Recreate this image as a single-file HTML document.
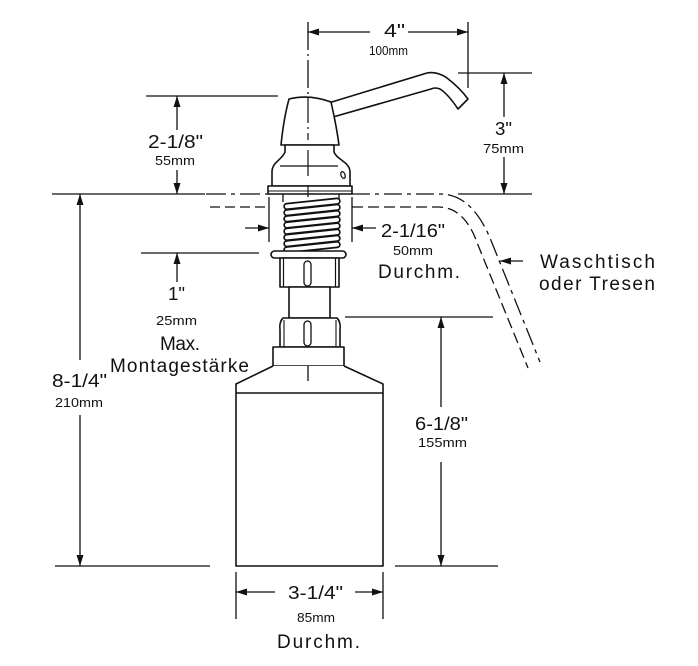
<!DOCTYPE html>
<html><head><meta charset="utf-8"><style>
html,body{margin:0;padding:0;background:#fff;}
svg{display:block;}
text{font-family:"Liberation Sans",Arial,sans-serif;fill:#111;}
</style></head><body>
<svg width="698" height="666" viewBox="0 0 698 666" xmlns="http://www.w3.org/2000/svg">
<rect width="698" height="666" fill="#fff"/>
<g stroke="#111" stroke-width="1.3" fill="none">
  <!-- center line -->
  <path d="M308 22 V197" stroke-dasharray="28 4 2 4"/>
  <path d="M308 287 V318" stroke-dasharray="14 4"/>
  <path d="M308 345 V381"/>
  <!-- 4" dimension -->
  <line x1="468" y1="22" x2="468" y2="88"/>
  <line x1="308" y1="32" x2="370" y2="32"/>
  <line x1="408" y1="32" x2="468" y2="32"/>
  <!-- 3" dimension -->
  <line x1="458" y1="73" x2="532" y2="73"/>
  <line x1="458" y1="194" x2="532" y2="194"/>
  <line x1="504" y1="73" x2="504" y2="117"/>
  <line x1="504" y1="157" x2="504" y2="194"/>
  <!-- 2-1/8" dimension -->
  <line x1="146" y1="96" x2="278" y2="96"/>
  <line x1="177" y1="96" x2="177" y2="130"/>
  <line x1="177" y1="170" x2="177" y2="194"/>
  <!-- counter top line left solid -->
  <line x1="52" y1="194" x2="205" y2="194"/>
  <!-- 8-1/4" dimension -->
  <line x1="80" y1="194" x2="80" y2="360"/>
  <line x1="80" y1="415" x2="80" y2="566"/>
  <line x1="55" y1="566" x2="210" y2="566"/>
  <!-- 1" dimension -->
  <line x1="141" y1="253" x2="259" y2="253"/>
  <line x1="177" y1="253" x2="177" y2="282"/>
  <!-- 2-1/16" -->
  <line x1="269" y1="197" x2="269" y2="242"/>
  <line x1="352" y1="197" x2="352" y2="242"/>
  <line x1="245" y1="228" x2="269" y2="228"/>
  <line x1="352" y1="228" x2="376" y2="228"/>
  <!-- 6-1/8" -->
  <line x1="345" y1="317" x2="493" y2="317"/>
  <line x1="441" y1="317" x2="441" y2="407"/>
  <line x1="441" y1="462" x2="441" y2="566"/>
  <line x1="395" y1="566" x2="498" y2="566"/>
  <!-- 3-1/4" -->
  <line x1="236" y1="572" x2="236" y2="619"/>
  <line x1="383" y1="572" x2="383" y2="619"/>
  <line x1="236" y1="592" x2="275" y2="592"/>
  <line x1="355" y1="592" x2="383" y2="592"/>
  <!-- Waschtisch arrow -->
  <line x1="500" y1="261" x2="523" y2="261"/>
  <!-- counter dashed lines -->
  <path d="M206 194 H269" stroke-dasharray="20 5 4 5"/>
  <path d="M210 207 H269" stroke-dasharray="10 5"/>
  <path d="M352 194 H440 C462 194 478 210 490 238 L540 362" stroke-dasharray="18 5 4 5"/>
  <path d="M352 207 H438 C458 207 470 222 478 245 L528 368" stroke-dasharray="11 5"/>
</g>
<!-- arrowheads -->
<g fill="#111">
  <polygon points="308,32 319,28.5 319,35.5"/>
  <polygon points="468,32 457,28.5 457,35.5"/>
  <polygon points="504,73 500.5,84 507.5,84"/>
  <polygon points="504,194 500.5,183 507.5,183"/>
  <polygon points="177,96 173.5,107 180.5,107"/>
  <polygon points="177,194 173.5,183 180.5,183"/>
  <polygon points="80,194 76.5,205 83.5,205"/>
  <polygon points="80,566 76.5,555 83.5,555"/>
  <polygon points="177,253 173.5,264 180.5,264"/>
  <polygon points="269,228 258,224.5 258,231.5"/>
  <polygon points="352,228 363,224.5 363,231.5"/>
  <polygon points="441,317 437.5,328 444.5,328"/>
  <polygon points="441,566 437.5,555 444.5,555"/>
  <polygon points="236,592 247,588.5 247,595.5"/>
  <polygon points="383,592 372,588.5 372,595.5"/>
  <polygon points="500,261 511,257.5 511,264.5"/>
</g>
<!-- pump drawing -->
<g stroke="#111" stroke-width="1.6" fill="#fff" stroke-linejoin="round">
  <!-- spout -->
  <path d="M322 105 L427 73 Q437 71 447 78 Q460 88 468 99 L458 109 Q448 94 440 89 Q435 87 431 89 L326 119 Z"/>
  <!-- head cap -->
  <path d="M281 145 C283 125 286 110 289 99 Q309 94 331 102 C334 115 337 130 339 145 Z"/>
  <!-- head base body -->
  <path d="M285 145 L285 152 C282 160 272 162 272 172 L272 186 L350 186 L350 172 C350 162 337 160 334 152 L334 145 Z"/>
  <line x1="280" y1="166" x2="338" y2="166" stroke-width="1.3"/>
  <rect x="268" y="186" width="84" height="8"/>
  <line x1="268" y1="191" x2="352" y2="191" stroke-width="1"/>
  <ellipse cx="343" cy="175" rx="2" ry="3.5" transform="rotate(-20 343 175)" stroke-width="1.3"/>
  <!-- thread stubs -->
  <line x1="283" y1="194" x2="283" y2="202" stroke-width="1.3"/>
  <line x1="339" y1="194" x2="339" y2="202" stroke-width="1.3"/>
  <!-- thread coils -->
  <g stroke-width="1.7">
    <rect x="284" y="201" width="56" height="5.6" rx="2.8" transform="rotate(-6 312 203.8)"/>
    <rect x="284" y="207.2" width="56" height="5.6" rx="2.8" transform="rotate(-6 312 210)"/>
    <rect x="284" y="213.4" width="56" height="5.6" rx="2.8" transform="rotate(-6 312 216.2)"/>
    <rect x="284" y="219.6" width="56" height="5.6" rx="2.8" transform="rotate(-6 312 222.4)"/>
    <rect x="284" y="225.8" width="56" height="5.6" rx="2.8" transform="rotate(-6 312 228.6)"/>
    <rect x="284" y="232" width="56" height="5.6" rx="2.8" transform="rotate(-6 312 234.8)"/>
    <rect x="284" y="238.2" width="56" height="5.6" rx="2.8" transform="rotate(-6 312 241)"/>
    <rect x="284" y="244.4" width="56" height="5.6" rx="2.8" transform="rotate(-6 312 247.2)"/>
  </g>
  <!-- washer -->
  <rect x="271" y="251" width="75" height="7" rx="3.5"/>
  <!-- nut -->
  <rect x="280" y="258" width="59" height="29"/>
  <line x1="283.5" y1="258" x2="283.5" y2="287" stroke-width="1.2"/>
  <line x1="335.5" y1="258" x2="335.5" y2="287" stroke-width="1.2"/>
  <rect x="304" y="261" width="7" height="25" rx="3.5" stroke-width="1.3"/>
  <!-- tube -->
  <rect x="289" y="287" width="41" height="31"/>
  <!-- cap upper -->
  <path d="M283 318 L337 318 Q341 322 340 330 L340 347 L280 347 L280 330 Q279 322 283 318 Z"/>
  <line x1="284" y1="320" x2="284" y2="347" stroke-width="1.1"/>
  <line x1="336" y1="320" x2="336" y2="347" stroke-width="1.1"/>
  <rect x="304" y="321" width="7" height="25" rx="3.5" stroke-width="1.3"/>
  <!-- cap lower -->
  <rect x="273" y="347" width="71" height="19"/>
  <!-- bottle -->
  <path d="M273 366 L236 384 L236 566 L383 566 L383 384 L344 366"/>
  <line x1="236" y1="393" x2="383" y2="393"/>
</g>
<line x1="308" y1="366" x2="308" y2="381" stroke="#111" stroke-width="1.3"/>
<line x1="308" y1="97" x2="308" y2="140" stroke="#111" stroke-width="1.2" stroke-dasharray="26 4 2 4"/>
<line x1="308" y1="150" x2="308" y2="176" stroke="#111" stroke-width="1.2"/>
<line x1="308" y1="186" x2="308" y2="194" stroke="#111" stroke-width="1.2"/>
<!-- labels -->
<g font-size="18">
  <text x="384" y="37" textLength="21" lengthAdjust="spacingAndGlyphs">4"</text>
  <text x="148" y="148" textLength="55" lengthAdjust="spacingAndGlyphs">2-1/8"</text>
  <text x="495" y="135" textLength="17" lengthAdjust="spacingAndGlyphs">3"</text>
  <text x="381" y="237" textLength="64" lengthAdjust="spacingAndGlyphs">2-1/16"</text>
  <text x="168" y="300" textLength="17" lengthAdjust="spacingAndGlyphs">1"</text>
  <text x="52" y="387" textLength="55" lengthAdjust="spacingAndGlyphs">8-1/4"</text>
  <text x="415" y="430" textLength="53" lengthAdjust="spacingAndGlyphs">6-1/8"</text>
  <text x="288" y="599" textLength="55" lengthAdjust="spacingAndGlyphs">3-1/4"</text>
</g>
<g font-size="19">
  <text x="378" y="278" textLength="82" lengthAdjust="spacing">Durchm.</text>
  <text x="540" y="268" textLength="115" lengthAdjust="spacing">Waschtisch</text>
  <text x="539" y="290" textLength="116" lengthAdjust="spacing">oder Tresen</text>
  <text x="160" y="350" textLength="40" lengthAdjust="spacing">Max.</text>
  <text x="110" y="372" textLength="139" lengthAdjust="spacing">Montagestärke</text>
  <text x="277" y="648" textLength="83" lengthAdjust="spacing">Durchm.</text>
</g>
<g font-size="13">
  <text x="369" y="55" textLength="39" lengthAdjust="spacingAndGlyphs">100mm</text>
  <text x="155" y="165" textLength="40" lengthAdjust="spacingAndGlyphs">55mm</text>
  <text x="483" y="153" textLength="41" lengthAdjust="spacingAndGlyphs">75mm</text>
  <text x="393" y="255" textLength="40" lengthAdjust="spacingAndGlyphs">50mm</text>
  <text x="156" y="325" textLength="41" lengthAdjust="spacingAndGlyphs">25mm</text>
  <text x="55" y="407" textLength="48" lengthAdjust="spacingAndGlyphs">210mm</text>
  <text x="418" y="447" textLength="49" lengthAdjust="spacingAndGlyphs">155mm</text>
  <text x="297" y="622" textLength="38" lengthAdjust="spacingAndGlyphs">85mm</text>
</g>
</svg>
</body></html>
